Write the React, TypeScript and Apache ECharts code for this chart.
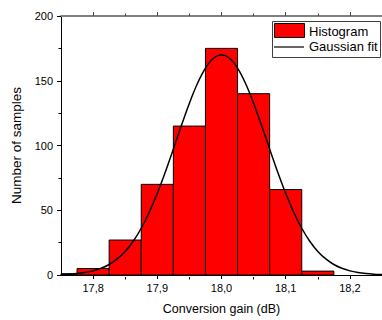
import React, { useEffect, useRef } from "react";
import * as echarts from "echarts";

const FONT = "Liberation Sans, Arial, sans-serif";

// Histogram bins (bin centers, bin width 0.05 dB) and counts
const binCenters = [17.75, 17.8, 17.85, 17.9, 17.95, 18.0, 18.05, 18.1, 18.15];
const counts = [1, 5, 27, 70, 115, 175, 140, 66, 3];
const binWidth = 0.05;

// Gaussian fit curve points
const fitX = [
  17.75, 17.7625, 17.775, 17.7875, 17.8, 17.8125, 17.825, 17.8375, 17.85, 17.8625,
  17.875, 17.8875, 17.9, 17.9125, 17.925, 17.9375, 17.95, 17.9625, 17.975, 17.9875,
  18.0, 18.0125, 18.025, 18.0375, 18.05, 18.0625, 18.075, 18.0875, 18.1, 18.1125,
  18.125, 18.1375, 18.15, 18.1625, 18.175, 18.1875, 18.2, 18.2125, 18.225, 18.2375, 18.25,
];
const fitY = [
  0.35, 0.63, 1.1, 1.9, 3.2, 5.2, 8.1, 12.4, 18.2, 26.1,
  36.1, 48.5, 63.1, 79.6, 97.3, 115.4, 132.7, 147.9, 159.8, 167.4,
  170, 167.4, 159.8, 147.9, 132.7, 115.4, 97.3, 79.6, 63.1, 48.5,
  36.1, 26.1, 18.2, 12.4, 8.1, 5.2, 3.2, 1.9, 1.1, 0.63, 0.35,
];

// Axis ticks
const xMin = 17.75;
const xMax = 18.25;
const xMajorTicks = [17.8, 17.9, 18.0, 18.1, 18.2];
const xMinorTicks = [17.85, 17.95, 18.05, 18.15];
const yMin = 0;
const yMax = 200;
const yInterval = 50;

const legendLabels = ["Histogram", "Gaussian fit"];

export default function App() {
  const ref = useRef<HTMLDivElement>(null);

  useEffect(() => {
    if (!ref.current) return;
    const chart = echarts.init(ref.current, null, { renderer: "svg" });
    const gridRect = { left: 61, top: 16, width: 325, height: 261 };

    const option: any = {
      animation: false,
      backgroundColor: "#ffffff",
      textStyle: { fontFamily: FONT },
      grid: [
        { ...gridRect, containLabel: false },
        { ...gridRect, containLabel: false },
      ],
      xAxis: [
        {
          gridIndex: 0,
          type: "value",
          position: "bottom",
          min: xMin,
          max: xMax,
          axisLine: { show: true, onZero: false, lineStyle: { color: "#000", width: 1 } },
          axisTick: {
            show: true,
            inside: false,
            length: 4,
            customValues: xMajorTicks,
            lineStyle: { color: "#000", width: 1 },
          },
          axisLabel: {
            show: true,
            customValues: xMajorTicks,
            formatter: (v: number) => v.toFixed(1).replace(".", ","),
            fontSize: 11,
            color: "#000",
            fontFamily: FONT,
            margin: 7,
          },
          splitLine: { show: false },
          name: "Conversion gain (dB)",
          nameLocation: "middle",
          nameGap: 27,
          nameTextStyle: { fontSize: 12.5, color: "#000", fontFamily: FONT },
        },
        {
          gridIndex: 0,
          type: "value",
          position: "top",
          min: xMin,
          max: xMax,
          axisLine: { show: true, onZero: false, lineStyle: { color: "#808080", width: 2 } },
          axisTick: {
            show: true,
            inside: false,
            length: 4,
            customValues: xMajorTicks,
            lineStyle: { color: "#444", width: 1 },
          },
          axisLabel: { show: false },
          splitLine: { show: false },
        },
        {
          gridIndex: 1,
          type: "value",
          position: "bottom",
          min: xMin,
          max: xMax,
          axisLine: { show: false, onZero: false },
          axisTick: {
            show: true,
            inside: false,
            length: 2.5,
            customValues: xMinorTicks,
            lineStyle: { color: "#000", width: 1 },
          },
          axisLabel: { show: false },
          splitLine: { show: false },
        },
        {
          gridIndex: 1,
          type: "value",
          position: "top",
          min: xMin,
          max: xMax,
          axisLine: { show: false, onZero: false },
          axisTick: {
            show: true,
            inside: false,
            length: 2.5,
            customValues: xMinorTicks,
            lineStyle: { color: "#444", width: 1 },
          },
          axisLabel: { show: false },
          splitLine: { show: false },
        },
      ],
      yAxis: [
        {
          gridIndex: 0,
          type: "value",
          min: yMin,
          max: yMax,
          interval: yInterval,
          axisLine: { show: true, onZero: false, lineStyle: { color: "#000", width: 1 } },
          axisTick: { show: true, inside: false, length: 4, lineStyle: { color: "#000" } },
          minorTick: { show: true, splitNumber: 2, length: 2.5, lineStyle: { color: "#000" } },
          axisLabel: { fontSize: 11, color: "#000", fontFamily: FONT, margin: 8 },
          splitLine: { show: false },
          minorSplitLine: { show: false },
          name: "Number of samples",
          nameLocation: "middle",
          nameGap: 36,
          nameTextStyle: { fontSize: 13.5, color: "#000", fontFamily: FONT },
        },
        {
          gridIndex: 1,
          type: "value",
          min: yMin,
          max: yMax,
          show: false,
        },
      ],
      series: [
        {
          type: "custom",
          xAxisIndex: 0,
          yAxisIndex: 0,
          z: 2,
          data: binCenters.map((c, i) => [c, counts[i]]),
          renderItem: (params: any, api: any) => {
            const c = api.value(0);
            const v = api.value(1);
            const left = Math.max(c - binWidth / 2, xMin);
            const right = Math.min(c + binWidth / 2, xMax);
            const p0 = api.coord([left, v]);
            const p1 = api.coord([right, 0]);
            return {
              type: "rect",
              shape: { x: p0[0], y: p0[1], width: p1[0] - p0[0], height: p1[1] - p0[1] },
              style: { fill: "#ff0000", stroke: "#000", lineWidth: 1 },
            };
          },
        },
        {
          type: "line",
          xAxisIndex: 0,
          yAxisIndex: 0,
          z: 3,
          data: fitX.map((x, i) => [x, fitY[i]]),
          showSymbol: false,
          symbol: "none",
          smooth: 0.3,
          lineStyle: { color: "#000", width: 1.5 },
        },
      ],
      graphic: [
        {
          type: "rect",
          z: 10,
          shape: { x: 272.5, y: 21.5, width: 108, height: 36 },
          style: { fill: "#fff", stroke: "#404040", lineWidth: 1 },
        },
        {
          type: "rect",
          z: 11,
          shape: { x: 274.5, y: 23.5, width: 30, height: 14 },
          style: { fill: "#ff0000", stroke: "#000", lineWidth: 1 },
        },
        {
          type: "line",
          z: 11,
          shape: { x1: 274, y1: 47, x2: 304, y2: 47 },
          style: { stroke: "#333", lineWidth: 1.5 },
        },
        {
          type: "text",
          z: 11,
          x: 309,
          y: 31,
          style: {
            text: legendLabels[0],
            fontSize: 13,
            fontFamily: FONT,
            fill: "#000",
            verticalAlign: "middle",
            align: "left",
          },
        },
        {
          type: "text",
          z: 11,
          x: 309,
          y: 46.5,
          style: {
            text: legendLabels[1],
            fontSize: 13,
            fontFamily: FONT,
            fill: "#000",
            verticalAlign: "middle",
            align: "left",
          },
        },
      ],
    };

    chart.setOption(option);
    return () => chart.dispose();
  }, []);

  return (
    <div
      ref={ref}
      style={{ position: "absolute", left: 0, top: 0, width: 382, height: 320 }}
    />
  );
}
